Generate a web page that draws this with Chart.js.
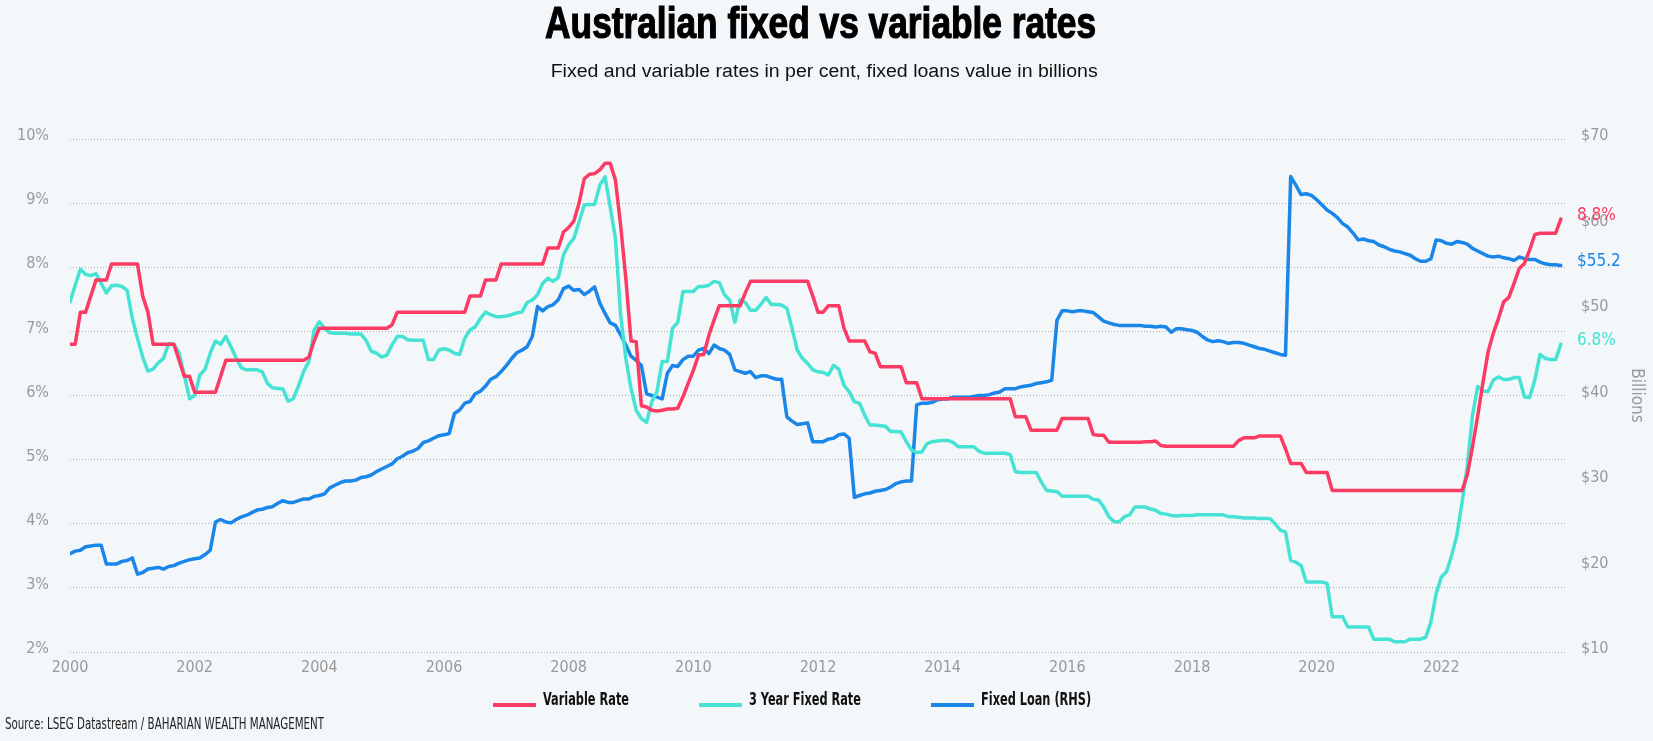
<!DOCTYPE html>
<html lang="en">
<head>
  <meta charset="UTF-8">
  <title>Australian fixed vs variable rates</title>
  <script src="https://cdn.jsdelivr.net/npm/chart.js"></script>
  <style>
    html, body { margin: 0; padding: 0; }
    body { width: 1653px; height: 741px; background: #f3f7fa; position: relative; overflow: hidden; font-family: 'Liberation Sans', Arial, sans-serif; }
    #chartBox { position: absolute; left: 0; top: 0; width: 1653px; height: 741px; }
    .row { position: absolute; left: 0; text-align: center; white-space: nowrap; }
    .fit { display: inline-block; white-space: nowrap; transform-origin: 50% 50%; }
    #title { top: 1px; width: 1641px; font-size: 44px; line-height: 44px; font-weight: bold; color: #000; -webkit-text-stroke: 1.2px #000; }
    #subtitle { top: 62px; width: 1649px; font-size: 18px; line-height: 18px; color: #111; }
    #legend { position: absolute; left: 493px; top: 686px; height: 22px; display: flex; align-items: flex-end; font-size: 18px; line-height: 18px; font-weight: bold; color: #111; }
    .item { display: flex; align-items: flex-end; margin-right: 70px; }
    .swatch { width: 43px; height: 4px; margin-right: 7px; margin-bottom: 1px; }
    .ltext { display: inline-block; white-space: nowrap; transform-origin: 0 50%; }
    #source { position: absolute; left: 5px; top: 716px; font-size: 16px; line-height: 16px; color: #222; transform-origin: 0 50%; }
  </style>
</head>
<body>
  <div id="chartBox"><canvas id="ratesChart" width="1653" height="741"></canvas></div>
  <div class="row" id="title"><span class="fit">Australian fixed vs variable rates</span></div>
  <div class="row" id="subtitle"><span class="fit">Fixed and variable rates in per cent, fixed loans value in billions</span></div>
  <div id="legend"></div>
  <div id="source" class="fit">Source: LSEG Datastream / BAHARIAN WEALTH MANAGEMENT</div>

  <script>
    // monthly series, Jan 2000 .. Dec 2023 (one row per year)
    const startYear = 2000;
    const yearTicks = [2000, 2002, 2004, 2006, 2008, 2010, 2012, 2014, 2016, 2018, 2020, 2022];

    const variableRate = [
      6.8, 6.8, 7.3, 7.3, 7.55, 7.8, 7.8, 7.8, 8.05, 8.05, 8.05, 8.05,
      8.05, 8.05, 7.55, 7.3, 6.8, 6.8, 6.8, 6.8, 6.8, 6.55, 6.3, 6.3,
      6.05, 6.05, 6.05, 6.05, 6.05, 6.3, 6.55, 6.55, 6.55, 6.55, 6.55, 6.55,
      6.55, 6.55, 6.55, 6.55, 6.55, 6.55, 6.55, 6.55, 6.55, 6.55, 6.6, 6.85,
      7.05, 7.05, 7.05, 7.05, 7.05, 7.05, 7.05, 7.05, 7.05, 7.05, 7.05, 7.05,
      7.05, 7.05, 7.1, 7.3, 7.3, 7.3, 7.3, 7.3, 7.3, 7.3, 7.3, 7.3,
      7.3, 7.3, 7.3, 7.3, 7.3, 7.55, 7.55, 7.55, 7.8, 7.8, 7.8, 8.05,
      8.05, 8.05, 8.05, 8.05, 8.05, 8.05, 8.05, 8.05, 8.3, 8.3, 8.3, 8.55,
      8.62, 8.72, 9.0, 9.38, 9.45, 9.46, 9.52, 9.62, 9.62, 9.36, 8.66, 7.83,
      6.85, 6.84, 5.84, 5.82, 5.77, 5.76, 5.77, 5.79, 5.79, 5.8, 5.98, 6.19,
      6.39, 6.63, 6.64, 6.94, 7.18, 7.4, 7.4, 7.4, 7.4, 7.4, 7.6, 7.78,
      7.78, 7.78, 7.78, 7.78, 7.78, 7.78, 7.78, 7.78, 7.78, 7.78, 7.78, 7.55,
      7.3, 7.3, 7.4, 7.4, 7.4, 7.05, 6.85, 6.85, 6.85, 6.85, 6.68, 6.66,
      6.45, 6.45, 6.45, 6.45, 6.45, 6.2, 6.2, 6.2, 5.95, 5.95, 5.95, 5.95,
      5.95, 5.95, 5.95, 5.95, 5.95, 5.95, 5.95, 5.95, 5.95, 5.95, 5.95, 5.95,
      5.95, 5.95, 5.67, 5.67, 5.67, 5.46, 5.46, 5.46, 5.46, 5.46, 5.46, 5.64,
      5.64, 5.64, 5.64, 5.64, 5.64, 5.39, 5.38, 5.38, 5.27, 5.27, 5.27, 5.27,
      5.27, 5.27, 5.27, 5.28, 5.28, 5.29, 5.22, 5.21, 5.21, 5.21, 5.21, 5.21,
      5.21, 5.21, 5.21, 5.21, 5.21, 5.21, 5.21, 5.21, 5.21, 5.3, 5.34, 5.34,
      5.34, 5.37, 5.37, 5.37, 5.37, 5.37, 5.17, 4.94, 4.94, 4.94, 4.8, 4.8,
      4.8, 4.8, 4.8, 4.52, 4.52, 4.52, 4.52, 4.52, 4.52, 4.52, 4.52, 4.52,
      4.52, 4.52, 4.52, 4.52, 4.52, 4.52, 4.52, 4.52, 4.52, 4.52, 4.52, 4.52,
      4.52, 4.52, 4.52, 4.52, 4.52, 4.76, 5.2, 5.68, 6.2, 6.68, 6.97, 7.2,
      7.46, 7.53, 7.75, 7.98, 8.06, 8.27, 8.51, 8.53, 8.53, 8.53, 8.53, 8.75
    ];

    const fixedRate3y = [
      7.46, 7.72, 7.97, 7.89, 7.87, 7.9, 7.75, 7.6, 7.71, 7.72, 7.7, 7.64,
      7.2, 6.89, 6.6, 6.38, 6.41, 6.51, 6.58, 6.81, 6.8, 6.66, 6.32, 5.95,
      6.0, 6.32, 6.41, 6.66, 6.85, 6.8, 6.92, 6.76, 6.58, 6.43, 6.4, 6.4,
      6.4, 6.37, 6.19, 6.12, 6.11, 6.1, 5.91, 5.95, 6.15, 6.38, 6.53, 7.02,
      7.15, 7.05, 6.98, 6.97, 6.97, 6.97, 6.96, 6.96, 6.96, 6.86, 6.69, 6.66,
      6.6, 6.63, 6.79, 6.92, 6.92, 6.87, 6.86, 6.86, 6.86, 6.56, 6.56, 6.71,
      6.73, 6.71, 6.66, 6.64, 6.89, 7.02, 7.07, 7.2, 7.3, 7.26, 7.23, 7.23,
      7.24, 7.26, 7.29, 7.3, 7.45, 7.49, 7.57, 7.75, 7.83, 7.78, 7.84, 8.19,
      8.35, 8.45, 8.71, 8.97, 8.98, 8.98, 9.28, 9.41, 8.94, 8.45, 7.26, 6.58,
      6.11, 5.77, 5.64, 5.58, 5.9, 6.06, 6.53, 6.53, 7.05, 7.14, 7.62, 7.62,
      7.62, 7.7, 7.7, 7.72, 7.78, 7.76, 7.57, 7.49, 7.14, 7.49, 7.45, 7.33,
      7.33, 7.42, 7.53, 7.42, 7.42, 7.41, 7.36, 7.05, 6.71, 6.58, 6.5, 6.4,
      6.37, 6.36, 6.32, 6.47, 6.41, 6.16, 6.06, 5.9, 5.88, 5.69, 5.54, 5.54,
      5.53, 5.52, 5.44, 5.44, 5.43, 5.28, 5.15, 5.11, 5.12, 5.25, 5.28, 5.29,
      5.3, 5.3, 5.27, 5.2, 5.2, 5.2, 5.2, 5.13, 5.1, 5.1, 5.1, 5.1,
      5.1, 5.08, 4.81, 4.8, 4.8, 4.8, 4.8, 4.65, 4.52, 4.51, 4.5, 4.43,
      4.43, 4.43, 4.43, 4.43, 4.43, 4.38, 4.37, 4.26, 4.11, 4.03, 4.03, 4.11,
      4.14, 4.26, 4.26, 4.26, 4.23, 4.21, 4.16, 4.15, 4.13, 4.12, 4.13, 4.13,
      4.13, 4.14, 4.14, 4.14, 4.14, 4.14, 4.14, 4.11, 4.11, 4.1, 4.09, 4.09,
      4.09, 4.08, 4.08, 4.08, 4.0, 3.9, 3.87, 3.43, 3.4, 3.35, 3.09, 3.09,
      3.09, 3.09, 3.07, 2.55, 2.55, 2.55, 2.39, 2.39, 2.39, 2.39, 2.39, 2.2,
      2.2, 2.2, 2.2, 2.16, 2.16, 2.16, 2.2, 2.2, 2.2, 2.23, 2.47, 2.91,
      3.17, 3.25, 3.51, 3.82, 4.34, 4.91, 5.69, 6.14, 6.07, 6.06, 6.24, 6.29,
      6.25, 6.25, 6.28, 6.28, 5.98, 5.97, 6.24, 6.64, 6.58, 6.56, 6.56, 6.8
    ];

    // fixed loans, $ billions (right axis)
    const fixedLoans = [
      21.5, 21.8, 21.9, 22.3, 22.4, 22.5, 22.5, 20.3, 20.3, 20.3, 20.6, 20.7,
      21.0, 19.1, 19.3, 19.7, 19.8, 19.9, 19.7, 20.0, 20.1, 20.4, 20.6, 20.8,
      20.9, 21.0, 21.4, 21.9, 25.2, 25.5, 25.2, 25.1, 25.5, 25.8, 26.0, 26.3,
      26.6, 26.7, 26.9, 27.0, 27.4, 27.7, 27.5, 27.5, 27.7, 27.9, 27.9, 28.2,
      28.3, 28.5, 29.2, 29.5, 29.8, 30.0, 30.0, 30.1, 30.4, 30.5, 30.7, 31.1,
      31.4, 31.7, 32.0, 32.6, 32.9, 33.3, 33.5, 33.8, 34.5, 34.7, 35.0, 35.3,
      35.4, 35.55, 37.9, 38.3, 39.1, 39.3, 40.2, 40.5, 41.1, 41.9, 42.2, 42.8,
      43.5, 44.3, 45.0, 45.3, 45.7, 46.9, 50.4, 49.9, 50.4, 50.6, 51.2, 52.5,
      52.8, 52.3, 52.4, 51.8, 52.2, 52.7, 50.8, 49.6, 48.5, 48.2, 47.1, 45.9,
      44.6, 44.1, 43.5, 40.2, 40.0, 39.8, 39.6, 42.6, 43.5, 43.4, 44.2, 44.6,
      44.6, 45.3, 45.5, 44.9, 45.9, 45.5, 45.3, 44.8, 43.0, 42.8, 42.6, 42.8,
      42.1, 42.3, 42.3, 42.1, 41.9, 41.9, 37.5, 37.0, 36.6, 36.7, 36.8, 34.6,
      34.6, 34.6, 34.9, 35.0, 35.4, 35.5, 35.0, 28.1, 28.3, 28.5, 28.6, 28.8,
      28.9, 29.0, 29.3, 29.7, 29.9, 30.0, 30.0, 38.9, 39.1, 39.1, 39.2, 39.5,
      39.6, 39.6, 39.8, 39.8, 39.8, 39.8, 39.9, 40.0, 40.0, 40.1, 40.3, 40.4,
      40.8, 40.8, 40.8, 41.0, 41.1, 41.2, 41.4, 41.5, 41.6, 41.8, 48.8, 49.9,
      49.9, 49.8, 49.9, 49.9, 49.8, 49.7, 49.2, 48.7, 48.5, 48.3, 48.2, 48.2,
      48.2, 48.2, 48.2, 48.1, 48.1, 48.0, 48.1, 48.0, 47.4, 47.8, 47.8, 47.7,
      47.6, 47.4, 46.9, 46.5, 46.3, 46.4, 46.3, 46.1, 46.2, 46.2, 46.1, 45.9,
      45.7, 45.5, 45.4, 45.2, 45.0, 44.8, 44.7, 65.6, 64.6, 63.5, 63.6, 63.4,
      62.9, 62.3, 61.7, 61.3, 60.8, 60.1, 59.7, 59.0, 58.2, 58.3, 58.1, 58.0,
      57.6, 57.4, 57.1, 56.9, 56.8, 56.6, 56.4, 56.0, 55.7, 55.7, 56.0, 58.2,
      58.1, 57.8, 57.7, 58.0, 57.9, 57.7, 57.2, 56.9, 56.6, 56.3, 56.2, 56.3,
      56.1, 56.0, 55.8, 56.2, 56.0, 55.9, 55.9, 55.6, 55.4, 55.3, 55.3, 55.2
    ];

    const NARROW = "'DejaVu Sans Condensed', 'Liberation Sans Narrow', sans-serif";
    const GREY = '#999999';

    // squeeze a text element horizontally to a given width
    function fitWidth(el, target) {
      const w = el.getBoundingClientRect().width;
      el.style.transform = `scaleX(${target / w})`;
      return w;
    }
    fitWidth(document.querySelector('#title .fit'), 551);
    fitWidth(document.querySelector('#subtitle .fit'), 547);
    document.getElementById('source').style.fontFamily = NARROW;
    fitWidth(document.getElementById('source'), 319);

    const toPoints = arr => arr.map((v, i) => ({ x: startYear + i / 12, y: v }));
    const tickFont = { family: NARROW, size: 16 };
    const endFormat = [v => v.toFixed(1) + '%', v => v.toFixed(1) + '%', v => '$' + v.toFixed(1)];

    const endLabels = {
      id: 'endLabels',
      afterDatasetsDraw(chart) {
        const { ctx, chartArea } = chart;
        ctx.save();
        ctx.font = `17px ${NARROW}`;
        ctx.textBaseline = 'middle';
        ctx.textAlign = 'left';
        chart.data.datasets.forEach((ds, i) => {
          const meta = chart.getDatasetMeta(i);
          const pt = meta.data[meta.data.length - 1];
          const v = ds.data[ds.data.length - 1].y;
          ctx.fillStyle = ds.borderColor;
          ctx.fillText(endFormat[i](v), chartArea.right + 11, pt.y - 4);
        });
        ctx.restore();
      }
    };

    const lineStyle = { borderWidth: 3.5, pointRadius: 0, tension: 0, fill: false, borderJoinStyle: 'round', borderCapStyle: 'round' };

    const chart = new Chart(document.getElementById('ratesChart'), {
      type: 'line',
      data: {
        datasets: [
          { label: 'Variable Rate', data: toPoints(variableRate), borderColor: '#fb3b63', yAxisID: 'y', ...lineStyle },
          { label: '3 Year Fixed Rate', data: toPoints(fixedRate3y), borderColor: '#46e2d3', yAxisID: 'y', ...lineStyle },
          { label: 'Fixed Loan (RHS)', data: toPoints(fixedLoans), borderColor: '#1a86e8', yAxisID: 'y1', ...lineStyle }
        ]
      },
      options: {
        responsive: false,
        animation: false,
        devicePixelRatio: 1,
        layout: { padding: { top: 139, bottom: 59, left: 0, right: 0 } },
        plugins: { legend: { display: false }, tooltip: { enabled: false } },
        scales: {
          x: {
            type: 'linear', min: 2000, max: 2024,
            grid: { display: false, drawTicks: false },
            border: { display: false },
            afterBuildTicks: s => { s.ticks = yearTicks.map(v => ({ value: v })); },
            afterFit: s => { s.height = 30; },
            ticks: { padding: 6, color: GREY, font: tickFont, maxRotation: 0, autoSkip: false, callback: v => String(v) }
          },
          y: {
            position: 'left', min: 2, max: 10,
            afterFit: s => { s.width = 70; },
            grid: { color: '#adadad', lineWidth: 1, drawTicks: false },
            border: { display: false, dash: [1, 2] },
            ticks: { stepSize: 1, padding: 21, labelOffset: -3, color: GREY, font: tickFont, callback: v => v + '%' }
          },
          y1: {
            position: 'right', min: 10, max: 70,
            afterFit: s => { s.width = 87; },
            grid: { display: false, drawTicks: false },
            border: { display: false },
            ticks: { stepSize: 10, padding: 15, labelOffset: -3, color: GREY, font: tickFont, callback: v => '$' + v },
            title: { display: true, text: 'Billions', color: GREY, font: { family: NARROW, size: 17 }, padding: { top: 6, bottom: 0 } }
          }
        }
      },
      plugins: [endLabels]
    });

    // legend built from the datasets, text squeezed to the condensed look
    const legend = document.getElementById('legend');
    legend.style.fontFamily = NARROW;
    const texts = [];
    chart.data.datasets.forEach(ds => {
      const item = document.createElement('div');
      item.className = 'item';
      item.innerHTML = `<span class="swatch" style="background:${ds.borderColor}"></span><span class="ltext">${ds.label}</span>`;
      legend.appendChild(item);
      texts.push(item.querySelector('.ltext'));
    });
    const squeeze = 86 / texts[0].getBoundingClientRect().width;
    texts.forEach(t => {
      const w = t.getBoundingClientRect().width;
      t.style.transform = `scaleX(${squeeze})`;
      t.style.marginRight = `${-w * (1 - squeeze)}px`;
    });
  </script>
</body>
</html>
